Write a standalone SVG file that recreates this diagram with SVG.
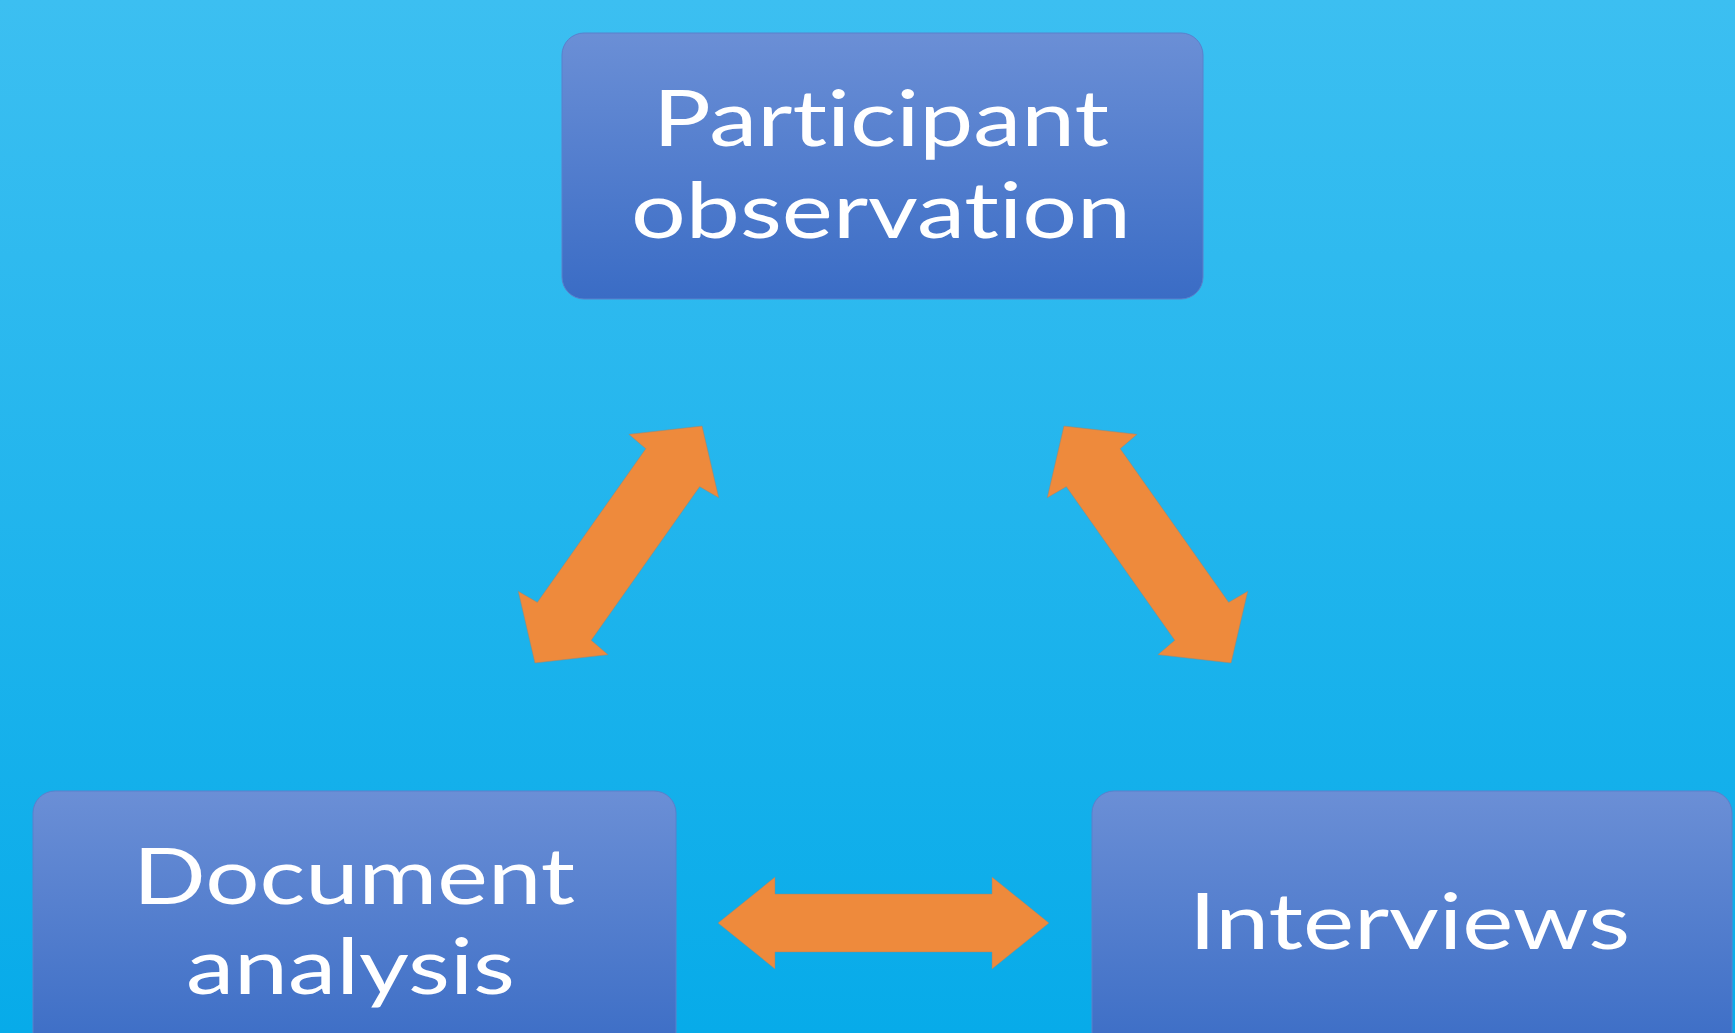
<svg xmlns="http://www.w3.org/2000/svg" width="1735" height="1033" viewBox="0 0 1735 1033">
  <defs>
    <linearGradient id="bg" x1="0" y1="0" x2="0" y2="1">
      <stop offset="0" stop-color="#3cbff1"/>
      <stop offset="1" stop-color="#07abe9"/>
    </linearGradient>
    <linearGradient id="boxFill" x1="0" y1="0" x2="0" y2="1">
      <stop offset="0" stop-color="#6b8fd6"/>
      <stop offset="1" stop-color="#3a6cc5"/>
    </linearGradient>
    <!-- two-headed block arrow shapes, centred on the origin along x -->
    <polygon id="arrowLong" points="-165.5,0 -108.5,-46 -108.5,-29 108.5,-29 108.5,-46 165.5,0 108.5,46 108.5,29 -108.5,29 -108.5,46"/>
    <polygon id="arrowDiag" points="-145,0 -96,-55 -94,-33 94,-33 96,-55 145,0 96,55 94,33 -94,33 -96,55"/>
  </defs>
  <style>
    .box { fill: url(#boxFill); stroke: #5a80cc; stroke-width: 1; }
    .label { font-family: Lato, "Open Sans", "Liberation Sans", sans-serif; font-size: 77px; fill: #ffffff;
             font-variant-ligatures: none; font-feature-settings: "liga" 0, "clig" 0, "dlig" 0; }
    .arrow { fill: #ee8a3c; stroke: #8c8a80; stroke-width: 0.8; stroke-opacity: 0.6; }
  </style>

  <rect x="0" y="0" width="1735" height="1033" fill="url(#bg)"/>

  <g id="connectors">
    <use href="#arrowDiag" class="arrow" transform="translate(618.5,544.5) rotate(-54.8)"/>
    <use href="#arrowDiag" class="arrow" transform="translate(1147.5,544.5) rotate(54.8)"/>
    <use href="#arrowLong" class="arrow" transform="translate(883.5,923)"/>
  </g>

  <g id="participant-observation">
    <rect class="box" x="562" y="33" width="641" height="266" rx="22" ry="22"/>
    <text class="label" x="653" y="146" textLength="456" lengthAdjust="spacingAndGlyphs">Participant</text>
    <text class="label" x="631" y="238" textLength="500" lengthAdjust="spacingAndGlyphs">observation</text>
  </g>

  <g id="document-analysis">
    <rect class="box" x="33" y="791" width="643" height="270" rx="22" ry="22"/>
    <text class="label" x="133" y="904" textLength="442" lengthAdjust="spacingAndGlyphs">Document</text>
    <text class="label" x="186" y="994" textLength="329" lengthAdjust="spacingAndGlyphs">analysis</text>
  </g>

  <g id="interviews">
    <rect class="box" x="1092" y="791" width="640" height="270" rx="22" ry="22"/>
    <text class="label" x="1189" y="949" textLength="441" lengthAdjust="spacingAndGlyphs">Interviews</text>
  </g>
</svg>
